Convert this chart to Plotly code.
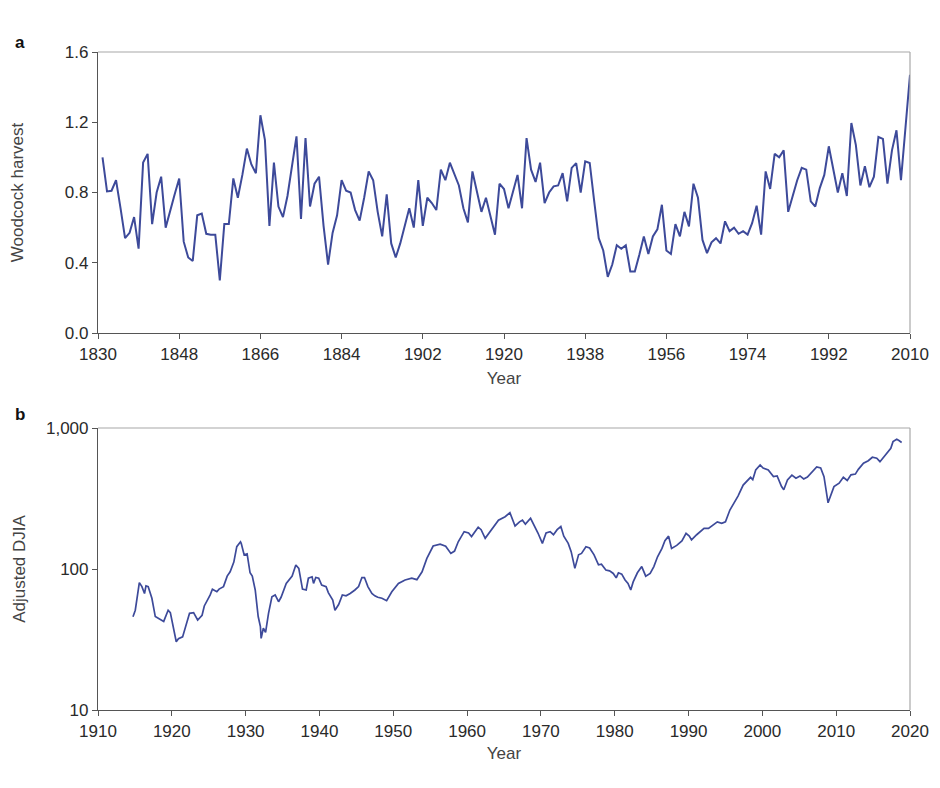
import plotly.graph_objects as go

# ---- Panel a: woodcock harvest (annual) ----
wc_years = list(range(1831, 2011))
wc_values = [
    1.00, 0.806, 0.81, 0.87, 0.71, 0.54, 0.57, 0.66, 0.48, 0.97,   # 1831-1840
    1.02, 0.62, 0.80, 0.89, 0.60, 0.70, 0.79, 0.88, 0.52, 0.43,    # 1841-1850
    0.41, 0.67, 0.68, 0.565, 0.56, 0.56, 0.30, 0.62, 0.62, 0.88,   # 1851-1860
    0.77, 0.90, 1.05, 0.96, 0.91, 1.24, 1.10, 0.61, 0.97, 0.72,    # 1861-1870
    0.66, 0.78, 0.95, 1.12, 0.65, 1.11, 0.72, 0.85, 0.89, 0.61,    # 1871-1880
    0.39, 0.57, 0.67, 0.87, 0.81, 0.80, 0.70, 0.64, 0.77, 0.92,    # 1881-1890
    0.87, 0.69, 0.55, 0.79, 0.51, 0.43, 0.51, 0.61, 0.71, 0.60,    # 1891-1900
    0.87, 0.61, 0.77, 0.74, 0.70, 0.93, 0.87, 0.97, 0.91, 0.84,    # 1901-1910
    0.71, 0.63, 0.92, 0.80, 0.69, 0.77, 0.66, 0.56, 0.85, 0.82,    # 1911-1920
    0.71, 0.80, 0.90, 0.71, 1.11, 0.93, 0.86, 0.97, 0.74, 0.80,    # 1921-1930
    0.835, 0.84, 0.91, 0.75, 0.94, 0.967, 0.80, 0.977, 0.968, 0.75,  # 1931-1940
    0.54, 0.47, 0.32, 0.39, 0.50, 0.48, 0.50, 0.35, 0.35, 0.445,   # 1941-1950
    0.55, 0.45, 0.55, 0.59, 0.73, 0.47, 0.45, 0.62, 0.55, 0.69,    # 1951-1960
    0.607, 0.85, 0.77, 0.53, 0.455, 0.516, 0.54, 0.51, 0.636, 0.58,  # 1961-1970
    0.60, 0.565, 0.58, 0.56, 0.625, 0.725, 0.56, 0.92, 0.82, 1.02,   # 1971-1980
    1.00, 1.04, 0.69, 0.78, 0.87, 0.94, 0.93, 0.75, 0.72, 0.825,   # 1981-1990
    0.90, 1.063, 0.93, 0.80, 0.91, 0.78, 1.196, 1.07, 0.84, 0.95,  # 1991-2000
    0.83, 0.89, 1.116, 1.105, 0.85, 1.04, 1.154, 0.87, 1.17, 1.47,  # 2001-2010
]

# ---- Panel b: adjusted DJIA ----
dj_years = [
    1914.74, 1915.05, 1915.6, 1915.95, 1916.3, 1916.5, 1916.8, 1917.3, 1917.76, 1918.2,
    1918.67, 1918.9, 1919.5, 1919.8, 1920.6, 1920.9, 1921.46, 1922.4, 1922.95, 1923.5,
    1924.1, 1924.4, 1925.2, 1925.5, 1926.1, 1926.4, 1927.0, 1927.5, 1927.9, 1928.4,
    1928.8, 1929.3, 1929.4, 1929.8, 1930.2, 1930.6, 1930.9, 1931.3, 1931.7, 1932.0,
    1932.1, 1932.4, 1932.7, 1933.1, 1933.56, 1934.0, 1934.46, 1934.8, 1935.5, 1936.0,
    1936.3, 1936.8, 1937.2, 1937.7, 1938.2, 1938.5, 1939.0, 1939.2, 1939.5, 1939.9,
    1940.3, 1940.9, 1941.2, 1941.8, 1942.1, 1942.6, 1943.1, 1943.6, 1944.16, 1944.8,
    1945.3, 1945.75, 1946.1, 1946.56, 1947.1, 1947.5, 1947.9, 1948.46, 1949.1, 1949.8,
    1950.7, 1951.6, 1952.5, 1953.2, 1953.9, 1954.55, 1955.4, 1956.35, 1957.1, 1957.8,
    1958.3, 1958.8, 1959.6, 1960.2, 1960.6, 1961.5, 1961.9, 1962.45, 1963.35, 1964.25,
    1965.15, 1965.8, 1966.5, 1967.1, 1967.5, 1967.9, 1968.6, 1969.2, 1969.6, 1970.2,
    1970.7, 1971.25, 1971.7, 1972.2, 1972.7, 1973.1, 1973.7, 1974.1, 1974.6, 1975.1,
    1975.5, 1976.1, 1976.6, 1977.2, 1977.8, 1978.2, 1978.8, 1979.3, 1979.8, 1980.2,
    1980.5, 1980.95, 1981.4, 1981.8, 1982.17, 1982.5, 1983.07, 1983.66, 1984.2, 1984.8,
    1985.3, 1985.8, 1986.4, 1986.8, 1987.3, 1987.7, 1988.4, 1989.1, 1989.66, 1990.1,
    1990.4, 1991.1, 1991.55, 1992.1, 1992.7, 1993.4, 1993.9, 1994.5, 1995.0, 1995.6,
    1996.15, 1996.7, 1997.4, 1998.1, 1998.4, 1998.7, 1999.1, 1999.7, 2000.1, 2000.8,
    2001.5, 2002.0, 2002.6, 2002.9, 2003.4, 2004.0, 2004.55, 2005.1, 2005.6, 2006.1,
    2006.9, 2007.36, 2007.9, 2008.35, 2008.9, 2009.2, 2009.7, 2010.4, 2010.97, 2011.5,
    2012.0, 2012.6, 2013.0, 2013.7, 2014.35, 2014.9, 2015.5, 2015.93, 2016.4, 2016.9,
    2017.4, 2017.7, 2018.2, 2018.5, 2018.87,
]
dj_values = [
    45.9, 51, 80, 75, 67, 76, 75, 62, 46, 44.7,
    43.5, 42.5, 51, 49, 30.5, 32, 33, 48.5, 49, 43.5,
    47, 54.7, 65.5, 71.8, 69, 72, 75, 89, 95.5, 112,
    144, 156, 152, 126, 128, 94, 89, 71, 46, 39,
    32.2, 38, 35.5, 48.5, 63.5, 65.5, 58.6, 63, 79, 85,
    89, 106.7, 101, 72, 71, 86, 88, 79, 87, 86,
    77, 75, 68, 60.3, 51, 56, 65.5, 64.5, 67, 71,
    75, 87, 87, 75, 67, 64.5, 63, 62, 59.6, 69,
    79, 83.6, 86, 84, 95.5, 119, 145.5, 150, 145, 129,
    134, 156, 184, 180, 170, 198, 190, 165, 190, 222,
    235, 251, 202, 216, 222, 208, 229, 200, 180, 152,
    180, 184, 175, 190, 200, 171, 152, 132.7, 101, 126,
    129, 144, 141, 126, 107, 108, 98.4, 97, 93, 86.5,
    94, 92, 83.6, 79, 71, 81, 94, 104, 89, 93,
    104, 122, 140, 158.5, 171, 140, 147, 158, 179, 171,
    161, 175, 184, 194, 194, 205, 216, 211, 216, 262,
    292, 329, 394, 433, 447, 430, 504, 547, 520, 504,
    452, 457, 384, 365, 428, 463, 440, 457, 435, 449,
    504, 530, 520, 452, 295, 329, 384, 406, 447, 425,
    465, 471, 509, 562, 586, 620, 610, 577, 620, 677,
    717, 800, 832, 815, 790,
]

wc_ticks = [1830, 1848, 1866, 1884, 1902, 1920, 1938, 1956, 1974, 1992, 2010]
wc_yticks = [0.0, 0.4, 0.8, 1.2, 1.6]
dj_xticks = [1910, 1920, 1930, 1940, 1950, 1960, 1970, 1980, 1990, 2000, 2010, 2020]
dj_yticks = [10, 100, 1000]
dj_ytick_labels = ["10", "100", "1,000"]

LINE = "#3d4a9a"
AXIS = "#555555"
BOX = "#a8a8a8"
TXT = "#2a2a2a"
FONT = "Liberation Sans, Arial, Helvetica, sans-serif"
FS = 17

fig = go.Figure()
fig.add_trace(go.Scatter(x=wc_years, y=wc_values, mode="lines",
                         line=dict(color=LINE, width=2), xaxis="x", yaxis="y",
                         showlegend=False, hoverinfo="x+y"))
fig.add_trace(go.Scatter(x=dj_years, y=dj_values, mode="lines",
                         line=dict(color=LINE, width=1.7), xaxis="x2", yaxis="y2",
                         showlegend=False, hoverinfo="x+y"))

# page body has an 8px margin; figure is sized to fit the 940x788 window
W, H = 924, 772
ML, MR, MT, MB = 90, 22, 44, 70
ph = H - MT - MB          # plot-area height (658)
pw = W - ML - MR          # plot-area width (812)
# absolute page y of panel edges: top 52, a-bottom 333, b-top 428, bottom 710
dom_a = [(710 - 333) / ph, 1.0]
dom_b = [0.0, (710 - 428) / ph]

common_ax = dict(showgrid=False, zeroline=False, showline=True, linecolor=AXIS,
                 linewidth=1.2, ticks="outside", ticklen=5, tickwidth=1.2,
                 tickcolor=AXIS, tickfont=dict(family=FONT, size=FS, color=TXT),
                 automargin=False)

fig.update_layout(
    width=W, height=H,
    margin=dict(l=ML, r=MR, t=MT, b=MB),
    paper_bgcolor="white", plot_bgcolor="white",
    font=dict(family=FONT, size=FS, color=TXT),
    xaxis=dict(domain=[0, 1], anchor="y", range=[1830, 2010],
               tickvals=wc_ticks,
               title=dict(text="Year", standoff=9, font=dict(size=FS, color="#444444")),
               **common_ax),
    yaxis=dict(domain=dom_a, anchor="x", range=[0, 1.6], tickvals=wc_yticks,
               tickformat=".1f",
               title=dict(text="Woodcock harvest", standoff=36,
                          font=dict(size=FS, color="#444444")),
               **common_ax),
    xaxis2=dict(domain=[0, 1], anchor="y2", range=[1910, 2020],
                tickvals=dj_xticks,
                title=dict(text="Year", standoff=7, font=dict(size=FS, color="#444444")),
                **common_ax),
    yaxis2=dict(domain=dom_b, anchor="x2", type="log", range=[1, 3],
                tickvals=dj_yticks, ticktext=dj_ytick_labels,
                title=dict(text="Adjusted DJIA", standoff=16,
                           font=dict(size=FS, color="#444444")),
                **common_ax),
    shapes=[
        dict(type="line", xref="x domain", yref="y domain", x0=0, x1=1, y0=1, y1=1,
             line=dict(color=BOX, width=1.2)),
        dict(type="line", xref="x domain", yref="y domain", x0=1, x1=1, y0=0, y1=1,
             line=dict(color=BOX, width=1.2)),
        dict(type="line", xref="x2 domain", yref="y2 domain", x0=0, x1=1, y0=1, y1=1,
             line=dict(color=BOX, width=1.2)),
        dict(type="line", xref="x2 domain", yref="y2 domain", x0=1, x1=1, y0=0, y1=1,
             line=dict(color=BOX, width=1.2)),
    ],
    annotations=[
        dict(text="<b>a</b>", xref="paper", yref="paper", x=(13 - 98) / pw,
             y=1.0 + 10 / ph, xanchor="left", yanchor="middle", showarrow=False,
             font=dict(family=FONT, size=FS, color="#111111")),
        dict(text="<b>b</b>", xref="paper", yref="paper", x=(13 - 98) / pw,
             y=dom_b[1] + 14 / ph, xanchor="left", yanchor="middle", showarrow=False,
             font=dict(family=FONT, size=FS, color="#111111")),
    ],
)

fig.write_html("out.html")
